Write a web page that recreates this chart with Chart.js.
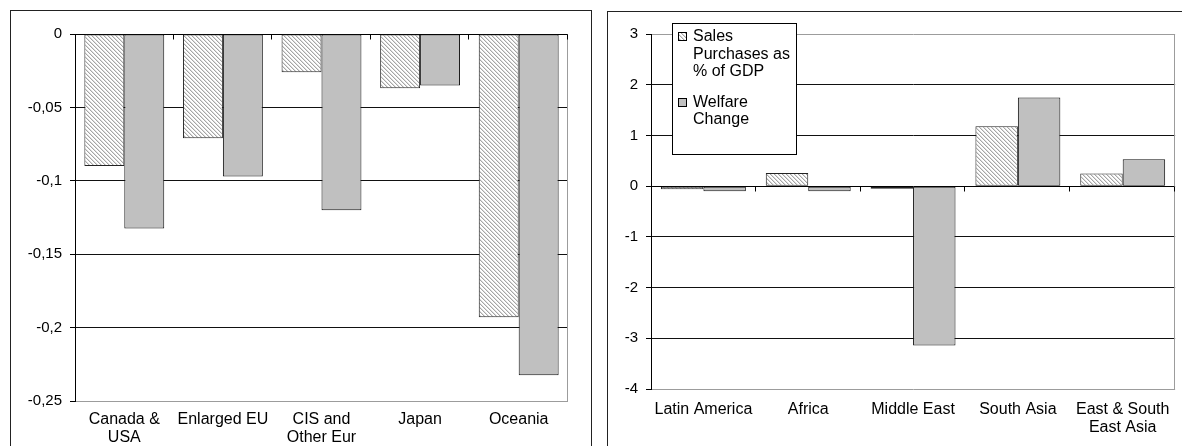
<!DOCTYPE html>
<html>
<head>
<meta charset="utf-8">
<script src="https://cdn.jsdelivr.net/npm/chart.js@4/dist/chart.umd.min.js"></script>
<style>
  html, body { margin: 0; padding: 0; background: #fff; overflow: hidden; width: 1182px; height: 446px; }
  .panel { position: absolute; border: 1px solid #222; box-sizing: border-box; }
  #p1 { left: 10px; top: 10px; width: 582px; height: 470px; }
  #p2 { left: 607px; top: 11px; width: 600px; height: 470px; }
  canvas { position: absolute; }
</style>
</head>
<body>
<div class="panel" id="p1"></div>
<div class="panel" id="p2"></div>
<canvas id="c1" width="580" height="435" style="left:11px;top:11px"></canvas>
<canvas id="c2" width="574" height="434" style="left:608px;top:12px"></canvas>
<script>
// Regions and results for the developed economies
const regionsA = [["Canada &", "USA"], "Enlarged EU", ["CIS and", "Other Eur"], "Japan", "Oceania"];
const salesA   = [-0.090, -0.071, -0.026, -0.037, -0.193];
const welfareA = [-0.1325, -0.097, -0.120, -0.035, -0.2325];
const yRangeA  = { min: -0.25, max: 0, step: 0.05 };

// Regions and results for the developing economies
const regionsB = ["Latin America", "Africa", "Middle East", "South Asia", ["East & South", "East Asia"]];
const salesB   = [-0.06, 0.26, -0.05, 1.18, 0.25];
const welfareB = [-0.10, -0.10, -3.14, 1.75, 0.53];
const yRangeB  = { min: -4, max: 3, step: 1 };

// Series names, split into the lines shown in the legend
const seriesNames = [["Sales", "Purchases as", "% of GDP"], ["Welfare", "Change"]];

const FONT = '"Liberation Sans", Arial, Helvetica, sans-serif';
const GRAY_FILL = '#c0c0c0';
const FRAME = '#9c9c9c';

// Diagonal hatch fill ("\" direction)
function makeHatch() {
  const c = document.createElement('canvas');
  c.width = 4; c.height = 4;
  const g = c.getContext('2d');
  const img = g.createImageData(4, 4);
  for (let y = 0; y < 4; y++) {
    for (let x = 0; x < 4; x++) {
      const d = ((x - y) % 4 + 4) % 4;
      const v = d === 0 ? 165 : (d === 1 ? 222 : 255);
      const i = (y * 4 + x) * 4;
      img.data[i] = v; img.data[i + 1] = v; img.data[i + 2] = v; img.data[i + 3] = 255;
    }
  }
  g.putImageData(img, 0, 0);
  return c;
}
const hatchTile = makeHatch();

function fmtComma(v) {
  const n = Math.round(v * 1000) / 1000;
  return String(n).replace('.', ',');
}

// Gray frame edge of the plot area plus category tick marks on the zero line
const plotFrame = {
  id: 'plotFrame',
  beforeDatasetsDraw(chart) {
    const { ctx, chartArea: a } = chart;
    ctx.save();
    ctx.strokeStyle = FRAME;
    ctx.lineWidth = 1;
    ctx.beginPath();
    ctx.moveTo(Math.round(a.right) - 0.5, Math.round(a.top) + 0.5);
    ctx.lineTo(Math.round(a.right) - 0.5, Math.round(a.bottom) + 0.5);
    ctx.stroke();
    ctx.restore();
  },
  afterDatasetsDraw(chart) {
    const { ctx } = chart;
    const xs = chart.scales.x, ys = chart.scales.y;
    const n = chart.data.labels.length;
    const y0 = Math.round(ys.getPixelForValue(0)) + 0.5;
    const w = (xs.right - xs.left) / n;
    ctx.save();
    ctx.strokeStyle = '#000';
    ctx.lineWidth = 1;
    ctx.beginPath();
    for (let i = 1; i <= n; i++) {
      const x = Math.round(xs.left + i * w) - 0.5;
      ctx.moveTo(x, y0);
      ctx.lineTo(x, y0 + 5);
    }
    ctx.stroke();
    ctx.restore();
  }
};

// Boxed legend with wrapped series names
const boxLegend = {
  id: 'boxLegend',
  afterDraw(chart, args, o) {
    if (!o || !o.show) return;
    const ctx = chart.ctx;
    ctx.save();
    ctx.fillStyle = '#fff';
    ctx.fillRect(o.x, o.y, o.w, o.h);
    ctx.strokeStyle = '#000';
    ctx.lineWidth = 1;
    ctx.strokeRect(o.x + 0.5, o.y + 0.5, o.w, o.h);
    ctx.font = '16px ' + FONT;
    ctx.textBaseline = 'middle';
    ctx.textAlign = 'left';
    let y = o.y + o.first;
    chart.data.datasets.forEach((ds, i) => {
      const lines = seriesNames[i];
      ctx.fillStyle = ds.backgroundColor;
      ctx.fillRect(o.x + o.swX, Math.round(y - 4.5), 9, 9);
      ctx.strokeStyle = '#000';
      ctx.strokeRect(o.x + o.swX + 0.5, Math.round(y - 4.5) + 0.5, 8, 8);
      ctx.fillStyle = '#000';
      lines.forEach((t, k) => ctx.fillText(t, o.x + o.txX, y + k * o.lineH));
      y += lines.length * o.lineH + o.gap;
    });
    ctx.restore();
  }
};

function buildChart(canvasId, labels, sales, welfare, range, geo, legendOpts) {
  const ctx = document.getElementById(canvasId).getContext('2d');
  const hatch = ctx.createPattern(hatchTile, 'repeat');
  return new Chart(ctx, {
    type: 'bar',
    data: {
      labels: labels,
      datasets: [
        { label: seriesNames[0].join(' '), data: sales, backgroundColor: hatch,
          borderColor: '#222', borderWidth: 1, borderSkipped: false },
        { label: seriesNames[1].join(' '), data: welfare, backgroundColor: GRAY_FILL,
          borderColor: '#111', borderWidth: 1, borderSkipped: false }
      ]
    },
    options: {
      responsive: false,
      animation: false,
      devicePixelRatio: 1,
      datasets: { bar: { categoryPercentage: 0.81, barPercentage: 1.0 } },
      layout: { padding: { top: geo.top, right: geo.right, left: 0, bottom: 0 } },
      plugins: {
        legend: { display: false },
        tooltip: { enabled: false },
        boxLegend: legendOpts
      },
      scales: {
        x: {
          grid: { display: false, drawTicks: false },
          border: { display: false },
          ticks: {
            color: '#000', padding: geo.xPad, maxRotation: 0, autoSkip: false,
            font: { family: FONT, size: 16, lineHeight: geo.lh }
          },
          afterFit(s) { s.height = geo.xH; }
        },
        y: {
          min: range.min, max: range.max,
          grid: {
            color: c => {
              const v = c.tick ? c.tick.value : 0;
              if (Math.abs(v) < 1e-9) return '#000';
              if (Math.abs(v - range.min) < 1e-9 || Math.abs(v - range.max) < 1e-9) return FRAME;
              return '#111';
            },
            tickColor: '#000',
            tickLength: 5,
            lineWidth: 1
          },
          border: { color: '#000', width: 1 },
          ticks: {
            stepSize: range.step, padding: 8, color: '#000',
            font: { family: FONT, size: 15 },
            callback: v => fmtComma(v)
          },
          afterFit(s) { s.width = geo.yW; }
        }
      }
    },
    plugins: [plotFrame, boxLegend]
  });
}

buildChart('c1', regionsA, salesA, welfareA, yRangeA,
  { top: 23, right: 23, yW: 64, xH: 45, xPad: 10, lh: 1.125 },
  { show: false });

buildChart('c2', regionsB, salesB, welfareB, yRangeB,
  { top: 22, right: 6, yW: 43, xH: 57, xPad: 12, lh: 1.09 },
  { show: true, x: 64, y: 11, w: 124, h: 131, first: 13.7, lineH: 17.5, gap: 13, swX: 6, txX: 21 });
</script>
</body>
</html>
